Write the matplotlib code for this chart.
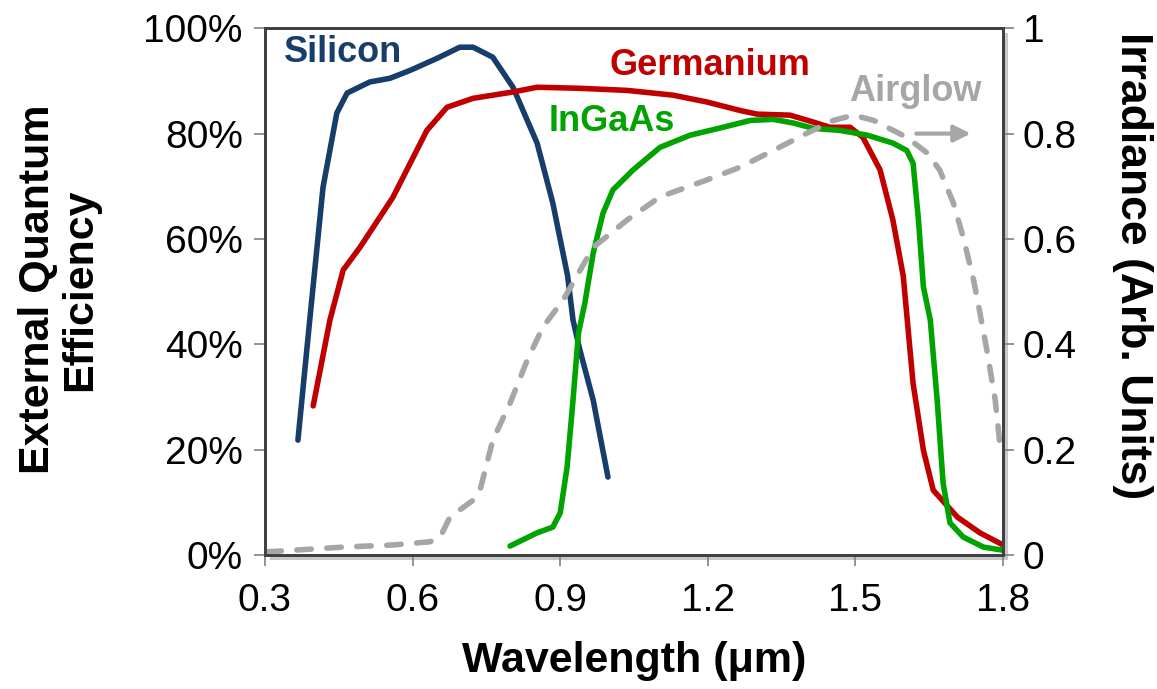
import matplotlib.pyplot as plt
from matplotlib.patches import Rectangle

plt.rcParams['font.family'] = ['Liberation Sans', 'DejaVu Sans']

# Data (wavelength in um)
si_x = [0.367, 0.391, 0.418, 0.446, 0.467, 0.513, 0.554, 0.595, 0.650, 0.696, 0.723,
        0.763, 0.804, 0.853, 0.885, 0.915, 0.926, 0.940, 0.967, 0.997]
si_y = [0.218, 0.446, 0.698, 0.839, 0.877, 0.898, 0.905, 0.920, 0.943, 0.964, 0.964,
        0.945, 0.888, 0.782, 0.668, 0.530, 0.446, 0.389, 0.294, 0.148]

ge_x = [0.398, 0.432, 0.459, 0.493, 0.560, 0.629, 0.670, 0.723, 0.804, 0.853, 0.940,
        1.036, 1.129, 1.198, 1.265, 1.300, 1.367, 1.414, 1.448, 1.489, 1.515, 1.550,
        1.576, 1.597, 1.617, 1.638, 1.658, 1.707, 1.753, 1.800]
ge_y = [0.283, 0.446, 0.541, 0.584, 0.679, 0.806, 0.850, 0.867, 0.879, 0.888, 0.886,
        0.882, 0.873, 0.860, 0.844, 0.837, 0.835, 0.822, 0.812, 0.812, 0.793, 0.731,
        0.636, 0.530, 0.326, 0.199, 0.123, 0.072, 0.042, 0.019]

ingaas_x = [0.798, 0.853, 0.885, 0.900, 0.914, 0.926, 0.937, 0.950, 0.967, 0.987,
            1.007, 1.048, 1.103, 1.164, 1.231, 1.286, 1.333, 1.374, 1.414, 1.469,
            1.524, 1.576, 1.604, 1.617, 1.628, 1.638, 1.652, 1.666, 1.678, 1.692,
            1.719, 1.760, 1.800]
ingaas_y = [0.017, 0.042, 0.053, 0.080, 0.167, 0.294, 0.421, 0.478, 0.573, 0.649,
            0.693, 0.731, 0.774, 0.797, 0.812, 0.825, 0.827, 0.820, 0.810, 0.806,
            0.797, 0.782, 0.768, 0.744, 0.636, 0.509, 0.446, 0.294, 0.137, 0.061,
            0.034, 0.015, 0.009]

air_x = [0.304, 0.357, 0.459, 0.560, 0.635, 0.656, 0.676, 0.723, 0.737, 0.763, 0.798,
         0.833, 0.865, 0.906, 0.967, 1.036, 1.103, 1.198, 1.265, 1.333, 1.402, 1.455,
         1.496, 1.537, 1.604, 1.646, 1.671, 1.699, 1.719, 1.740, 1.753, 1.767, 1.784,
         1.794]
air_y = [0.006, 0.009, 0.015, 0.019, 0.025, 0.034, 0.072, 0.104, 0.123, 0.218, 0.288,
         0.370, 0.433, 0.484, 0.584, 0.636, 0.680, 0.712, 0.736, 0.768, 0.801, 0.825,
         0.835, 0.825, 0.793, 0.763, 0.731, 0.668, 0.603, 0.522, 0.459, 0.389, 0.294,
         0.205]

x_ticks = [0.3, 0.6, 0.9, 1.2, 1.5, 1.8]
y_ticks = [0, 0.2, 0.4, 0.6, 0.8, 1.0]
y_left_labels = ['0%', '20%', '40%', '60%', '80%', '100%']
y_right_labels = ['0', '0.2', '0.4', '0.6', '0.8', '1']

navy = '#173D6B'
red = '#C00000'
green = '#00A300'
gray = '#A6A6A6'

fig = plt.figure(figsize=(11.57, 6.89), dpi=100)
ax = fig.add_axes([0.229, 0.1945, 0.638, 0.7645])

# soft shadow behind the plot frame
shadow = Rectangle((0.229 + 0.004, 0.1945 - 0.007), 0.638, 0.7645,
                   transform=fig.transFigure, facecolor='#c8c8c8',
                   edgecolor='none', zorder=-5)
fig.add_artist(shadow)
ax.set_facecolor('white')

lw = 4
ax.plot(si_x, si_y, color=navy, lw=lw, solid_capstyle='round', solid_joinstyle='round')
ax.plot(ge_x, ge_y, color=red, lw=lw, solid_capstyle='round', solid_joinstyle='round')
ax.plot(ingaas_x, ingaas_y, color=green, lw=lw, solid_capstyle='round',
        solid_joinstyle='round')

ax.set_xlim(0.3, 1.8)
ax.set_ylim(0, 1)
ax.set_xticks(x_ticks)
ax.set_xticklabels([f'{v:.1f}' for v in x_ticks])
ax.set_yticks(y_ticks)
ax.set_yticklabels(y_left_labels)

ax2 = ax.twinx()
ax2.plot(air_x, air_y, color=gray, lw=lw, ls=(0, (2.6, 2.8)), dash_capstyle='round')
ax2.set_ylim(0, 1)
ax2.set_yticks(y_ticks)
ax2.set_yticklabels(y_right_labels)

for a in (ax, ax2):
    for s in a.spines.values():
        s.set_color('#404040')
        s.set_linewidth(2)
    a.tick_params(direction='out', length=8, width=1.2, color='#808080',
                  labelsize=28, labelcolor='black', pad=8)
ax.tick_params(axis='x', pad=12)
ax2.tick_params(axis='y', pad=6)

ax.text(0.459, 0.954, 'Silicon', color=navy, fontsize=26, fontweight='bold',
        ha='center', va='center')
ax.text(1.204, 0.93, 'Germanium', color=red, fontsize=26, fontweight='bold',
        ha='center', va='center')
ax.text(1.005, 0.823, 'InGaAs', color=green, fontsize=26, fontweight='bold',
        ha='center', va='center')
ax.text(1.621, 0.879, 'Airglow', color=gray, fontsize=26, fontweight='bold',
        ha='center', va='center')
ax.annotate('', xy=(1.74, 0.80), xytext=(1.618, 0.80),
            arrowprops=dict(arrowstyle='-|>', color=gray, lw=3, mutation_scale=25))

fig.text(0.051, 0.58, 'External Quantum\nEfficiency', rotation=90, fontsize=31,
         fontweight='bold', ha='center', va='center', linespacing=1.05)
fig.text(0.979, 0.615, 'Irradiance (Arb. Units)', rotation=270, fontsize=32,
         fontweight='bold', ha='center', va='center')
fig.text(0.548, 0.04, 'Wavelength (\u03bcm)', fontsize=31, fontweight='bold',
         ha='center', va='center')

fig.savefig('out.png', dpi=100)
